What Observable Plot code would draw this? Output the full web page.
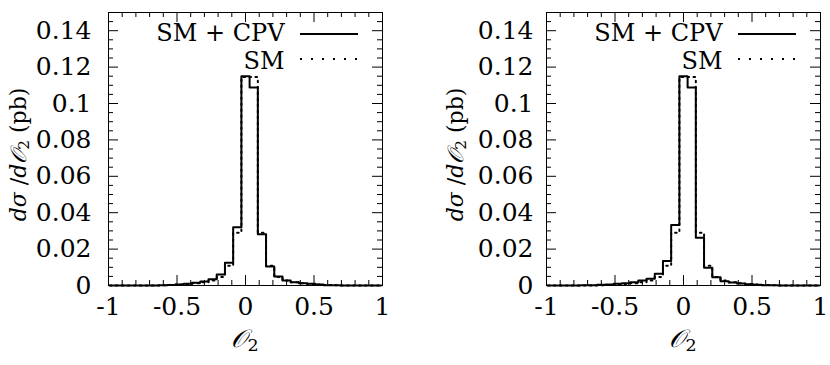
<!DOCTYPE html>
<html><head><meta charset="utf-8">
<script src="https://cdn.jsdelivr.net/npm/d3@7"></script>
<script src="https://cdn.jsdelivr.net/npm/@observablehq/plot@0.6"></script>
<style>
body{margin:0;background:#fff;}
#wrap{display:flex;width:830px;height:365px;}
#wrap svg{display:block;}
</style></head><body><div id="wrap"></div>
<script>
// bin centres (bin width 0.06)
const binCenters = [-0.96,-0.90,-0.84,-0.78,-0.72,-0.66,-0.60,-0.54,-0.48,-0.42,-0.36,-0.30,-0.24,-0.18,-0.12,-0.06,0,
  0.06,0.12,0.18,0.24,0.30,0.36,0.42,0.48,0.54,0.60,0.66,0.72,0.78,0.84,0.90,0.96];
// SM + CPV, left panel
const cpvLeft = [0,0,0,0,0,0,0.0001,0.0003,0.0006,0.0009,0.0015,0.0022,0.0035,0.0060,0.0125,0.0320,0.1150,
  0.1088,0.0282,0.0105,0.0049,0.0027,0.0018,0.0013,0.0009,0.0005,0.0002,0.0001,0,0,0,0,0];
// SM + CPV, right panel
const cpvRight = [0,0,0,0,0.0001,0.0002,0.0004,0.0006,0.0009,0.0013,0.0018,0.0027,0.0037,0.0064,0.0134,0.0333,0.1150,
  0.1088,0.0262,0.0097,0.0046,0.0024,0.0016,0.0011,0.0007,0.0004,0.0002,0.0001,0,0,0,0,0];
// SM only (both panels)
const smOnly = [0,0,0,0,0,0,0.0001,0.0003,0.0005,0.0008,0.0012,0.0018,0.0028,0.0047,0.0108,0.0290,0.1145,
  0.1145,0.0290,0.0108,0.0047,0.0028,0.0018,0.0012,0.0008,0.0005,0.0003,0.0001,0,0,0,0,0];

const xMajorTicks = [-1,-0.5,0,0.5,1];
const xMinorTicks = [-0.9,-0.8,-0.7,-0.6,-0.4,-0.3,-0.2,-0.1,0.1,0.2,0.3,0.4,0.6,0.7,0.8,0.9];
const yMajorTicks = [0,0.02,0.04,0.06,0.08,0.10,0.12,0.14];
const yMinorTicks = [0.005,0.01,0.015,0.025,0.03,0.035,0.045,0.05,0.055,0.065,0.07,0.075,0.085,0.09,0.095,
  0.105,0.11,0.115,0.125,0.13,0.135,0.145];
const xTickLabels = ["-1","-0.5","0","0.5","1"];
const yTickLabels = ["0","0.02","0.04","0.06","0.08","0.1","0.12","0.14"];
const legendLabels = ["SM + CPV","SM"];

const FONT = "'DejaVu Serif', 'Liberation Serif', serif";
const FS = 25;     // tick labels
const LFS = 24;    // legend
const TFS = 22;    // y title

function steps(vals){
  const half = (binCenters[1]-binCenters[0])/2;
  const pts = binCenters.map((c,i)=>({x:c-half, y:vals[i]}));
  pts.push({x:binCenters[binCenters.length-1]+half, y:vals[vals.length-1]});
  return pts;
}

function panel(values, ml, mr, ypad, titleX){
  const W=415, H=365, mt=12, mb=80;
  const fw=W-ml-mr, fh=H-mt-mb;
  const majLen=10, minLen=5;
  const el = Plot.plot({
    width:W, height:H, marginLeft:ml, marginRight:mr, marginTop:mt, marginBottom:mb,
    style:{fontFamily:FONT, fontSize:FS+"px", background:"white", color:"black", overflow:"visible"},
    x:{domain:[-1,1]}, y:{domain:[0,0.15]},
    marks:[
      Plot.line(steps(smOnly), {x:"x", y:"y", curve:"step-after", stroke:"black", strokeWidth:2, strokeDasharray:"1.6,4.4"}),
      Plot.line(steps(values), {x:"x", y:"y", curve:"step-after", stroke:"black", strokeWidth:2}),
      // inward ticks on all four sides
      Plot.tickX(xMajorTicks, {x:d=>d, insetTop:fh-majLen, stroke:"black"}),
      Plot.tickX(xMinorTicks, {x:d=>d, insetTop:fh-minLen, stroke:"black"}),
      Plot.tickX(xMajorTicks, {x:d=>d, insetBottom:fh-majLen, stroke:"black"}),
      Plot.tickX(xMinorTicks, {x:d=>d, insetBottom:fh-minLen, stroke:"black"}),
      Plot.tickY(yMajorTicks, {y:d=>d, insetRight:fw-majLen, stroke:"black"}),
      Plot.tickY(yMinorTicks, {y:d=>d, insetRight:fw-minLen, stroke:"black"}),
      Plot.tickY(yMajorTicks, {y:d=>d, insetLeft:fw-majLen, stroke:"black"}),
      Plot.tickY(yMinorTicks, {y:d=>d, insetLeft:fw-minLen, stroke:"black"}),
      Plot.axisX(xMajorTicks, {tickSize:0, tickPadding:12, tickFormat:(d,i)=>xTickLabels[i], label:null, fontSize:FS, fill:"black", fontFamily:FONT}),
      Plot.axisY(yMajorTicks, {tickSize:0, tickPadding:ypad, tickFormat:(d,i)=>yTickLabels[i], label:null, fontSize:FS, fill:"black", fontFamily:FONT}),
      Plot.frame({stroke:"black", strokeWidth:1}),
      Plot.text([legendLabels[0]], {text:d=>d, frameAnchor:"top-right", dx:-98, dy:21, textAnchor:"end", lineAnchor:"middle", fontSize:LFS, fill:"black", fontFamily:FONT}),
      Plot.text([legendLabels[1]], {text:d=>d, frameAnchor:"top-right", dx:-98, dy:49, textAnchor:"end", lineAnchor:"middle", fontSize:LFS, fill:"black", fontFamily:FONT})
    ]
  });
  const svg = d3.select(el);
  // legend samples
  svg.append("line").attr("x1",ml+fw-82).attr("x2",ml+fw-24).attr("y1",mt+22).attr("y2",mt+22)
     .attr("stroke","black").attr("stroke-width",2);
  svg.append("line").attr("x1",ml+fw-82).attr("x2",ml+fw-24).attr("y1",mt+47).attr("y2",mt+47)
     .attr("stroke","black").attr("stroke-width",2).attr("stroke-dasharray","2,9");
  // y title
  const t = svg.append("text").attr("transform",`translate(${titleX},${mt+fh/2+6}) rotate(-90)`)
     .attr("text-anchor","middle").attr("dominant-baseline","middle")
     .attr("font-family",FONT).attr("font-size",TFS).attr("fill","black");
  t.append("tspan").attr("font-style","italic").text("dσ");
  t.append("tspan").text(" /");
  t.append("tspan").attr("font-style","italic").text("d𝒪");
  t.append("tspan").attr("font-size",TFS*0.7).attr("dy",5).text("2");
  t.append("tspan").attr("dy",-5).text(" (pb)");
  // x title
  const xt = svg.append("text").attr("x",ml+fw/2).attr("y",340)
     .attr("text-anchor","middle").attr("dominant-baseline","middle")
     .attr("font-family",FONT).attr("font-size",FS).attr("fill","black");
  xt.append("tspan").attr("font-style","italic").text("𝒪");
  xt.append("tspan").attr("font-size",FS*0.7).attr("dy",6).text("2");
  return el;
}

const wrap = document.getElementById("wrap");
wrap.appendChild(panel(cpvLeft, 108, 33, 17, 20));
wrap.appendChild(panel(cpvRight, 131, 10, 13, 42));
</script></body></html>
